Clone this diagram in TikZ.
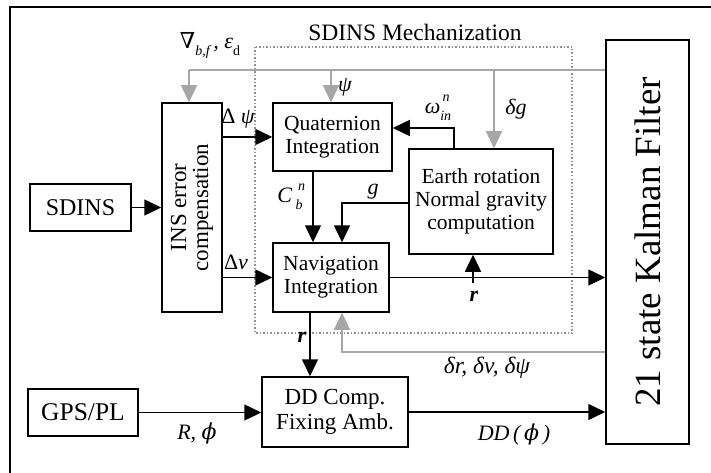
\documentclass[tikz,border=0pt]{standalone}
\usepackage{fontspec}
\setmainfont{Liberation Serif}
\newfontfamily\dvs{DejaVu Serif}
\usetikzlibrary{arrows.meta}
\newcommand{\lsub}[1]{\raisebox{-0.32em}{\fontsize{14}{14}\selectfont #1}}
\newcommand{\lsup}[1]{\raisebox{0.55em}{\fontsize{14}{14}\selectfont #1}}
\newcommand{\sphi}{{\dvs\itshape ϕ}}
\begin{document}
\begin{tikzpicture}[x=1pt,y=-1pt,
  box/.style={draw,line width=1.5pt,rectangle,inner sep=0pt,align=center,font=\fontsize{21.5}{23}\selectfont},
  arr/.style={line width=1.5pt,-{Triangle[length=17pt,width=16pt]}},
  garr/.style={draw=gray!70,line width=1.3pt,-{Triangle[length=17pt,width=16pt]}},
  gline/.style={draw=gray!70,line width=1.3pt},
  lbl/.style={font=\fontsize{22}{24}\selectfont\itshape,inner sep=0pt}]
\useasboundingbox (0,0) rectangle (711,473);
% outer frame
\draw[line width=1.2pt] (10,473) -- (10,7) -- (711,7);
% dotted mechanization box
\draw[gray!85,line width=1.5pt,dotted] (255,47) rectangle (572,333);
\node[inner sep=0pt,font=\fontsize{23.5}{25}\selectfont] (mech) at (415,32) {SDINS Mechanization};
% boxes
\node[box,minimum width=101pt,minimum height=47pt,font=\fontsize{24}{26}\selectfont] (SDINS) at (80.5,207.5) {SDINS};
\node[box,minimum width=60pt,minimum height=209pt] (INS) at (192,207.5) {};
\node[rotate=90,align=center,inner sep=0pt,font=\fontsize{23}{22}\selectfont] (INSt) at (INS.center) {INS error\\compensation};
\node[box,minimum width=119pt,minimum height=68pt] (Quat) at (332.5,137) {Quaternion\\Integration};
\node[box,minimum width=144pt,minimum height=105pt] (Earth) at (481,201.5) {Earth rotation\\Normal gravity\\computation};
\node[box,minimum width=116pt,minimum height=69pt] (Nav) at (331,277.5) {Navigation\\Integration};
\node[box,minimum width=146pt,minimum height=70pt,font=\fontsize{23}{25}\selectfont] (DD) at (335,412) {DD Comp.\\Fixing Amb.};
\node[box,minimum width=110pt,minimum height=47pt,font=\fontsize{25.5}{27}\selectfont] (GPS) at (83,412.5) {GPS/PL};
\node[box,minimum width=83pt,minimum height=404pt] (KF) at (647.5,242) {};
\node[rotate=90,inner sep=0pt,font=\fontsize{37}{40}\selectfont] (KFt) at (KF.center) {21 state Kalman Filter};
% helper coordinates
\coordinate (ytop) at (0,70);
\coordinate (yfb) at (0,352);
\coordinate (rpt) at (473,283);
\coordinate (gx) at (342,0);
\coordinate (wy) at (0,128);
% black connectors
\draw[arr] (SDINS.east) -- (SDINS.east -| INS.west);
\draw[arr] (INS.east |- Quat.west) -- (Quat.west);
\draw[arr] (INS.east |- Nav.west) -- (Nav.west);
\draw[arr] ([xshift=-19.5pt]Quat.south) -- ([xshift=-19.5pt]Quat.south |- Nav.north);
\draw[arr] ([yshift=-1.5pt]Earth.west) -| (gx |- Nav.north);
\draw[arr] ([xshift=-27pt]Earth.north) |- (Quat.east |- wy);
\draw[arr] (Nav.east) -- (Nav.east -| KF.west);
\draw[arr] (rpt) -- (rpt |- Earth.south);
\draw[arr] ([xshift=-21pt]Nav.south) -- ([xshift=-21pt]Nav.south |- DD.north);
\draw[arr] (GPS.east) -- (GPS.east -| DD.west);
\draw[arr] (DD.east) -- (DD.east -| KF.west);
% gray feedback
\draw[gline] (KF.west |- ytop) -- ([xshift=-3pt]INS.north |- ytop);
\draw[garr] ([xshift=-3pt]INS.north |- ytop) -- ([xshift=-3pt]INS.north);
\draw[garr] ([xshift=-1.5pt]Quat.north |- ytop) -- ([xshift=-1.5pt]Quat.north);
\draw[garr] ([xshift=13pt]Earth.north |- ytop) -- ([xshift=13pt]Earth.north);
\draw[garr] (KF.west |- yfb) -| ([xshift=11pt]Nav.south);
% labels
\node[lbl] (l1) at (210,45) {{\upshape\dvs ∇}\lsub{b,f}\,, ε\lsub{\upshape d}};
\node[lbl] (l2) at (345,87) {ψ};
\node[lbl] (l3) at (516,109) {δg};
\node[lbl] (l4) at (438,108) {ω\rlap{\lsup{\,n}}\lsub{in}};
\node[lbl] (l5) at (238,119) {{\upshape Δ} ψ};
\node[lbl] (l6) at (290,197) {C\,\rlap{\lsup{\,n}}\lsub{b}};
\node[lbl] (l7) at (373,192) {g};
\node[lbl] (l8) at (236,262) {{\upshape Δ}v};
\node[lbl,font=\fontsize{22}{24}\selectfont\bfseries\itshape] (l9) at (474,296) {r};
\node[lbl,font=\fontsize{22}{24}\selectfont\bfseries\itshape] (l10) at (302,337) {r};
\node[lbl,font=\fontsize{23.5}{25}\selectfont\itshape] (l11) at (487,368) {δr, δv, δψ};
\node[lbl] (l12) at (197,433) {R, \sphi};
\node[lbl] (l13) at (514,434) {DD\,(\,\sphi\,)};
\end{tikzpicture}
\end{document}
